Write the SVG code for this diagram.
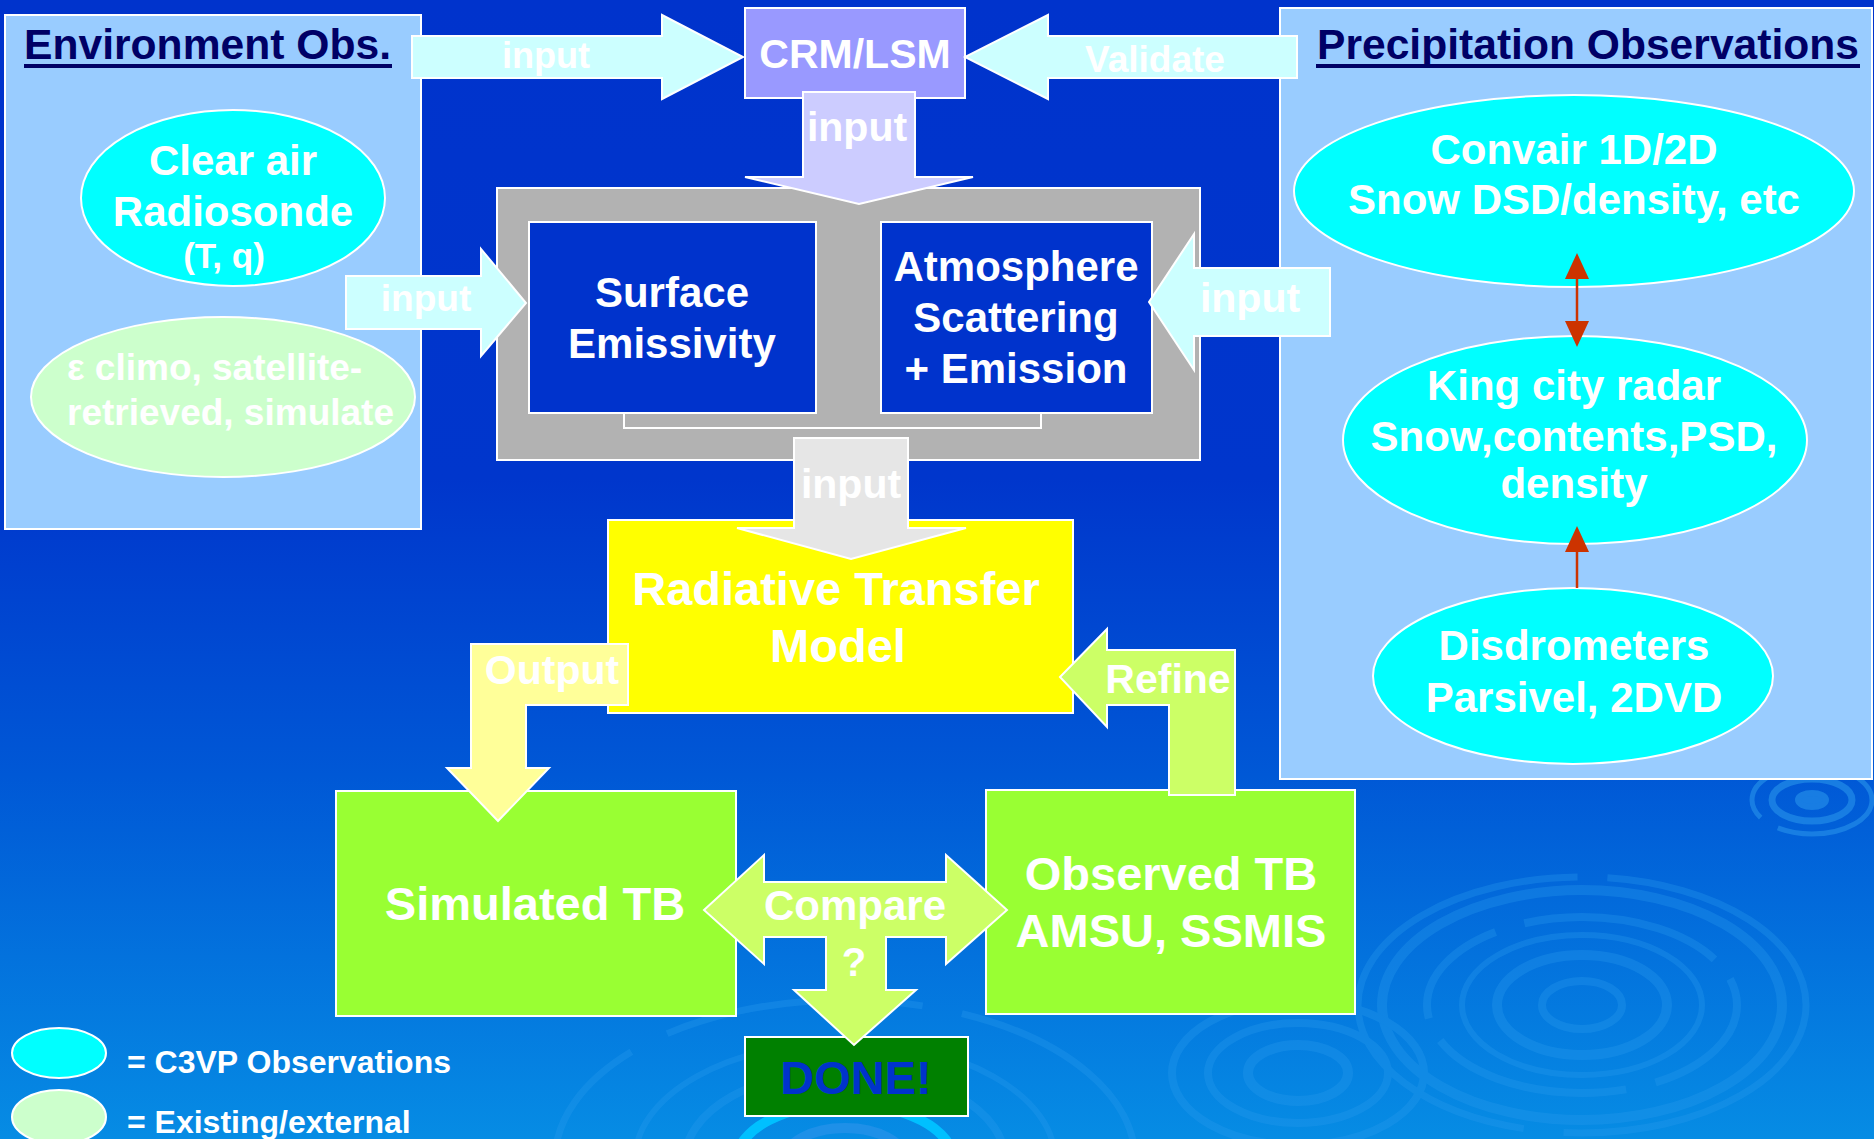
<svg xmlns="http://www.w3.org/2000/svg" width="1874" height="1139" viewBox="0 0 1874 1139">
<defs>
<linearGradient id="bg" x1="0" y1="0" x2="0" y2="1">
<stop offset="0" stop-color="#0033CC"/>
<stop offset="0.42" stop-color="#0036CC"/>
<stop offset="0.68" stop-color="#0058D6"/>
<stop offset="1" stop-color="#068CE4"/>
</linearGradient>
<style>
text{font-family:"Liberation Sans",Arial,sans-serif;font-weight:bold;fill:#FFFFFF;text-anchor:middle}
.ttl{fill:#000066;text-anchor:start;font-size:42px}
.panel{fill:#99CCFF;stroke:#FFFFFF;stroke-width:2}
.obs{fill:#00FFFF;stroke:#FFFFFF;stroke-width:2}
.ext{fill:#CCFFCC;stroke:#FFFFFF;stroke-width:2}
.box{stroke:#FFFFFF;stroke-width:2}
.arr{stroke:#FFFFFF;stroke-width:2;stroke-linejoin:miter}
.rip{fill:none;stroke:#2A9BEE;opacity:0.32}
.red{stroke:#CC3300;stroke-width:2.5;fill:none}
.redh{fill:#CC3300}
</style>
</defs>
<rect x="0" y="0" width="1874" height="1139" fill="url(#bg)"/>
<g id="ripples">
<g class="rip">
<ellipse cx="1582" cy="1005" rx="224" ry="128" stroke-width="7" stroke-dasharray="300 40 500 30"/>
<ellipse cx="1582" cy="1005" rx="200" ry="115" stroke-width="10"/>
<ellipse cx="1582" cy="1005" rx="155" ry="88" stroke-width="8" stroke-dasharray="120 30 200 25"/>
<ellipse cx="1582" cy="1005" rx="120" ry="70" stroke-width="6"/>
<ellipse cx="1582" cy="1005" rx="85" ry="50" stroke-width="10"/>
<ellipse cx="1582" cy="1005" rx="40" ry="24" stroke-width="8"/>
<ellipse cx="1298" cy="1073" rx="126" ry="72" stroke-width="8"/>
<ellipse cx="1298" cy="1073" rx="90" ry="50" stroke-width="8"/>
<ellipse cx="1298" cy="1073" rx="50" ry="28" stroke-width="10"/>
<ellipse cx="845" cy="1160" rx="290" ry="160" stroke-width="7" stroke-dasharray="260 40"/>
<ellipse cx="845" cy="1160" rx="210" ry="118" stroke-width="6"/>
<ellipse cx="845" cy="1160" rx="160" ry="90" stroke-width="8"/>
</g>
<ellipse cx="845" cy="1160" rx="108" ry="56" fill="none" stroke="#00C0FF" stroke-width="10"/>
<ellipse cx="845" cy="1160" rx="60" ry="32" fill="none" stroke="#1E90E8" stroke-width="10"/>
<g fill="none" stroke="#1E86E6" opacity="0.8">
<ellipse cx="1812" cy="800" rx="60" ry="34" stroke-width="5" stroke-dasharray="110 20"/>
<ellipse cx="1812" cy="800" rx="40" ry="21" stroke-width="7"/>
<ellipse cx="1812" cy="800" rx="14" ry="7" fill="#1E86E6" stroke-width="6"/>
</g>
</g>
<g id="env-obs">
<rect class="panel" x="5" y="15" width="416" height="514"/>
<text class="ttl" x="24" y="59" textLength="367" lengthAdjust="spacingAndGlyphs">Environment Obs.</text>
<rect x="24" y="64" width="368" height="4" fill="#000066"/>
</g>
<g id="clear-air">
<ellipse class="obs" cx="233" cy="198" rx="152" ry="88"/>
<text x="233" y="175" font-size="42">Clear air</text>
<text x="233" y="226" font-size="42">Radiosonde</text>
<text x="224" y="268" font-size="35">(T, q)</text>
</g>
<g id="emis-climo">
<ellipse class="ext" cx="223" cy="397" rx="192" ry="80"/>
<text x="67" y="380" font-size="37" style="text-anchor:start">ε climo, satellite-</text>
<text x="67" y="425" font-size="37" style="text-anchor:start">retrieved, simulate</text>
</g>
<g id="precip-obs">
<rect class="panel" x="1280" y="8" width="592" height="771"/>
<text class="ttl" x="1317" y="59" textLength="542" lengthAdjust="spacingAndGlyphs">Precipitation Observations</text>
<rect x="1316" y="64" width="544" height="4" fill="#000066"/>
</g>
<g id="convair">
<ellipse class="obs" cx="1574" cy="191" rx="280" ry="96"/>
<text x="1574" y="164" font-size="42">Convair 1D/2D</text>
<text x="1574" y="214" font-size="42">Snow DSD/density, etc</text>
</g>
<g id="king-city">
<ellipse class="obs" cx="1575" cy="440" rx="232" ry="104"/>
<text x="1574" y="400" font-size="42">King city radar</text>
<text x="1574" y="451" font-size="42">Snow,contents,PSD,</text>
<text x="1574" y="498" font-size="42">density</text>
</g>
<g id="disdrometers">
<ellipse class="obs" cx="1573" cy="676" rx="200" ry="88"/>
<text x="1574" y="660" font-size="42">Disdrometers</text>
<text x="1574" y="712" font-size="42">Parsivel, 2DVD</text>
</g>
<g id="crm-lsm">
<rect class="box" x="745" y="8" width="220" height="90" fill="#9999FF"/>
<text x="855" y="68" font-size="41">CRM/LSM</text>
</g>
<g id="rt-inputs">
<rect class="box" x="497" y="188" width="703" height="272" fill="#B2B2B2"/>
<path d="M624 413 L624 428 L1041 428 L1041 413" fill="none" stroke="#FFFFFF" stroke-width="2"/>
</g>
<g id="surface-emissivity">
<rect class="box" x="529" y="222" width="287" height="191" fill="#0033CC"/>
<text x="672" y="307" font-size="42">Surface</text>
<text x="672" y="358" font-size="42">Emissivity</text>
</g>
<g id="atmosphere">
<rect class="box" x="881" y="222" width="271" height="191" fill="#0033CC"/>
<text x="1016" y="281" font-size="42">Atmosphere</text>
<text x="1016" y="332" font-size="42">Scattering</text>
<text x="1016" y="383" font-size="42">+ Emission</text>
</g>
<g id="rtm">
<rect class="box" x="608" y="520" width="465" height="193" fill="#FFFF00"/>
<text x="836" y="605" font-size="47">Radiative Transfer</text>
<text x="838" y="662" font-size="47">Model</text>
</g>
<g id="simulated-tb">
<rect class="box" x="336" y="791" width="400" height="225" fill="#99FF33"/>
<text x="535" y="920" font-size="47">Simulated TB</text>
</g>
<g id="observed-tb">
<rect class="box" x="986" y="790" width="369" height="224" fill="#99FF33"/>
<text x="1171" y="890" font-size="47">Observed TB</text>
<text x="1171" y="947" font-size="47">AMSU, SSMIS</text>
</g>
<g id="done">
<rect class="box" x="745" y="1037" width="223" height="79" fill="#008000"/>
<text x="856" y="1094" font-size="47" style="fill:#0033CC">DONE!</text>
</g>
<g id="legend">
<ellipse class="obs" cx="59" cy="1053" rx="47" ry="25"/>
<text x="127" y="1073" font-size="32" style="text-anchor:start">= C3VP Observations</text>
<ellipse class="ext" cx="59" cy="1117" rx="47" ry="27"/>
<text x="127" y="1133" font-size="32" style="text-anchor:start">= Existing/external</text>
</g>
<g id="connectors">
<path class="arr" fill="#CCFFFF" d="M412 36 L662 36 L662 15 L743 57 L662 99 L662 78 L412 78 Z"/>
<text x="546" y="68" font-size="36">input</text>
<path class="arr" fill="#CCFFFF" d="M1297 36 L1048 36 L1048 15 L965 57 L1048 99 L1048 78 L1297 78 Z"/>
<text x="1155" y="72" font-size="37">Validate</text>
<path class="arr" fill="#CCCCFF" d="M803 92 L915 92 L915 177 L973 177 L859 204 L745 177 L803 177 Z"/>
<text x="857" y="141" font-size="41">input</text>
<path class="arr" fill="#CCFFFF" d="M346 276 L481 276 L481 249 L526 303 L481 356 L481 329 L346 329 Z"/>
<text x="426" y="311" font-size="37">input</text>
<path class="arr" fill="#CCFFFF" d="M1330 268 L1194 268 L1194 234 L1149 302 L1194 370 L1194 336 L1330 336 Z"/>
<text x="1250" y="312" font-size="41">input</text>
<path class="arr" fill="#E6E6E6" d="M794 438 L908 438 L908 528 L966 528 L851 559 L737 528 L794 528 Z"/>
<text x="851" y="498" font-size="41">input</text>
<path class="arr" fill="#FFFF99" d="M628 644 L471 644 L471 768 L447 768 L498 821 L549 768 L526 768 L526 705 L628 705 Z"/>
<text x="552" y="684" font-size="41">Output</text>
<path class="arr" fill="#CCFF66" d="M1060 677 L1107 629 L1107 650 L1235 650 L1235 795 L1169 795 L1169 705 L1107 705 L1107 727 Z"/>
<text x="1168" y="693" font-size="41">Refine</text>
<path class="arr" fill="#CCFF66" d="M704 910 L764 855 L764 882 L946 882 L946 855 L1007 910 L946 964 L946 937 L886 937 L886 990 L916 990 L854 1045 L794 990 L826 990 L826 937 L764 937 L764 964 Z"/>
<text x="855" y="920" font-size="42">Compare</text>
<text x="854" y="976" font-size="40">?</text>
<line class="red" x1="1577" y1="277" x2="1577" y2="323"/>
<polygon class="redh" points="1577,253 1565,279 1589,279"/>
<polygon class="redh" points="1577,347 1565,321 1589,321"/>
<line class="red" x1="1577" y1="550" x2="1577" y2="588"/>
<polygon class="redh" points="1577,526 1565,552 1589,552"/>
</g>
</svg>
